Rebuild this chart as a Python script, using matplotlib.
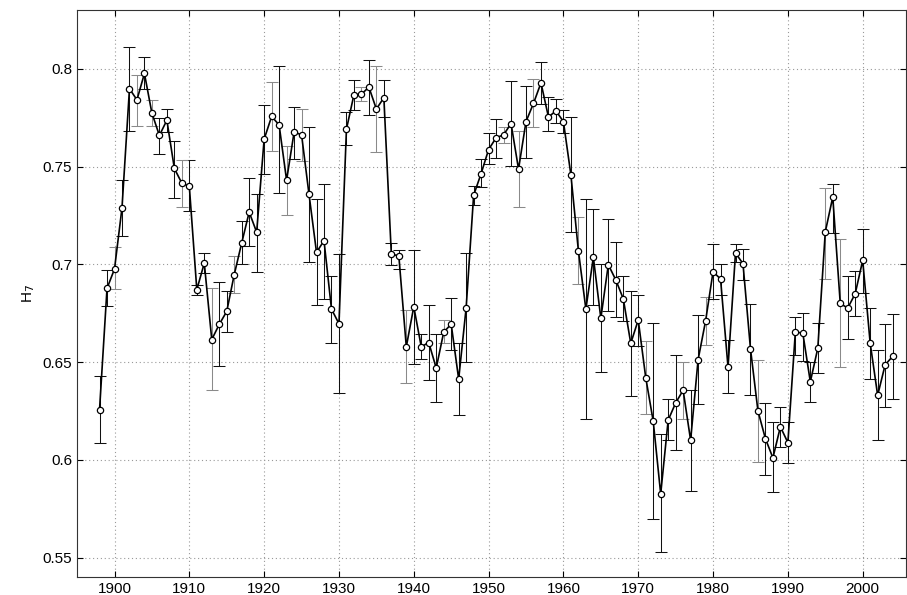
import numpy as np
import matplotlib
matplotlib.use('Agg')
import matplotlib.pyplot as plt
from matplotlib.ticker import FormatStrFormatter, MultipleLocator

plt.rcParams['font.family'] = ['Liberation Sans', 'DejaVu Sans']

years = np.arange(1898, 2005)

h7 = [0.6257, 0.6877, 0.6976, 0.7288, 0.7898, 0.7841, 0.7976, 0.7773, 0.7659, 0.7737,
      0.7490, 0.7415, 0.7399, 0.6870, 0.7006, 0.6615, 0.6693, 0.6759, 0.6947, 0.7109,
      0.7267, 0.7164, 0.7640, 0.7756, 0.7713, 0.7430, 0.7675, 0.7663, 0.7357, 0.7061,
      0.7121, 0.6771, 0.6696, 0.7691, 0.7867, 0.7870, 0.7906, 0.7794, 0.7852, 0.7051,
      0.7044, 0.6578, 0.6783, 0.6578, 0.6600, 0.6469, 0.6653, 0.6694, 0.6413, 0.6778,
      0.7353, 0.7464, 0.7587, 0.7647, 0.7662, 0.7720, 0.7487, 0.7730, 0.7823, 0.7928,
      0.7753, 0.7785, 0.7730, 0.7457, 0.7070, 0.6771, 0.7036, 0.6724, 0.6998, 0.6920,
      0.6824, 0.6596, 0.6715, 0.6421, 0.6198, 0.5826, 0.6203, 0.6291, 0.6356, 0.6100,
      0.6512, 0.6710, 0.6962, 0.6925, 0.6474, 0.7058, 0.7003, 0.6568, 0.6250, 0.6108,
      0.6010, 0.6169, 0.6088, 0.6655, 0.6647, 0.6399, 0.6571, 0.7166, 0.7344, 0.6800,
      0.6776, 0.6850, 0.7020, 0.6597, 0.6330, 0.6486, 0.6529]

upper = [0.6431, 0.6969, 0.7089, 0.7433, 0.8111, 0.7969, 0.8060, 0.7841, 0.7748, 0.7796,
         0.7633, 0.7532, 0.7531, 0.6895, 0.7060, 0.6877, 0.6909, 0.6865, 0.7043, 0.7224,
         0.7442, 0.7362, 0.7816, 0.7932, 0.8012, 0.7606, 0.7806, 0.7796, 0.7703, 0.7333,
         0.7413, 0.6938, 0.7055, 0.7778, 0.7942, 0.7906, 0.8046, 0.8014, 0.7945, 0.7107,
         0.7073, 0.6768, 0.7074, 0.6645, 0.6790, 0.6646, 0.6713, 0.6827, 0.6600, 0.7060,
         0.7399, 0.7538, 0.7672, 0.7741, 0.7700, 0.7940, 0.7683, 0.7913, 0.7950, 0.8036,
         0.7858, 0.7846, 0.7790, 0.7753, 0.7242, 0.7334, 0.7285, 0.7000, 0.7234, 0.7113,
         0.6939, 0.6862, 0.6843, 0.6609, 0.6701, 0.6130, 0.6310, 0.6534, 0.6498, 0.6357,
         0.6739, 0.6834, 0.7104, 0.7000, 0.6613, 0.7106, 0.7077, 0.6797, 0.6512, 0.6289,
         0.6191, 0.6268, 0.6193, 0.6728, 0.6752, 0.6502, 0.6698, 0.7390, 0.7411, 0.7128,
         0.6939, 0.6968, 0.7183, 0.6776, 0.6561, 0.6696, 0.6744]

lower = [0.6084, 0.6785, 0.6872, 0.7145, 0.7681, 0.7708, 0.7898, 0.7708, 0.7565, 0.7676,
         0.7341, 0.7295, 0.7273, 0.6843, 0.6954, 0.6355, 0.6479, 0.6652, 0.6855, 0.7000,
         0.7092, 0.6961, 0.7462, 0.7580, 0.7365, 0.7254, 0.7538, 0.7526, 0.7013, 0.6793,
         0.6824, 0.6597, 0.6340, 0.7608, 0.7790, 0.7833, 0.7766, 0.7572, 0.7751, 0.6997,
         0.6975, 0.6392, 0.6490, 0.6514, 0.6408, 0.6297, 0.6599, 0.6561, 0.6227, 0.6500,
         0.7305, 0.7393, 0.7512, 0.7546, 0.7619, 0.7503, 0.7292, 0.7546, 0.7700, 0.7818,
         0.7683, 0.7724, 0.7672, 0.7165, 0.6899, 0.6208, 0.6792, 0.6447, 0.6761, 0.6732,
         0.6712, 0.6328, 0.6584, 0.6234, 0.5696, 0.5527, 0.6100, 0.6048, 0.6208, 0.5841,
         0.6283, 0.6585, 0.6824, 0.6845, 0.6340, 0.7014, 0.6920, 0.6333, 0.5991, 0.5923,
         0.5834, 0.6068, 0.5985, 0.6536, 0.6508, 0.6297, 0.6444, 0.6923, 0.7160, 0.6474,
         0.6616, 0.6735, 0.6855, 0.6413, 0.6100, 0.6268, 0.6311]

# years whose error bars come out lighter in the original
gray_years = [1900, 1903, 1905, 1909, 1913, 1916, 1921, 1923, 1925, 1933, 1935, 1939,
              1944, 1952, 1954, 1956, 1962, 1971, 1976, 1979, 1986, 1995, 1997]

h7 = np.array(h7)
upper = np.array(upper)
lower = np.array(lower)
is_gray = np.isin(years, gray_years)

fig = plt.figure(figsize=(9.07, 5.95), dpi=100)
ax = fig.add_axes([0.085, 0.030, 0.914, 0.953])

for mask, col in [(~is_gray, '#111111'), (is_gray, '#8a8a8a')]:
    ax.errorbar(years[mask], h7[mask],
                yerr=[h7[mask] - lower[mask], upper[mask] - h7[mask]],
                fmt='none', ecolor=col, elinewidth=0.75, capsize=4, capthick=0.75, zorder=2)

ax.plot(years, h7, '-', color='black', lw=1.2, zorder=3)
ax.plot(years, h7, 'o', ms=4.5, mfc='white', mec='black', mew=0.9, zorder=4)

ax.set_xlim(1895, 2005.8)
ax.set_ylim(0.54, 0.83)
ax.xaxis.set_major_locator(MultipleLocator(10))
ax.yaxis.set_major_locator(MultipleLocator(0.05))
ax.yaxis.set_major_formatter(FormatStrFormatter('%g'))

ax.grid(True, linestyle=(0, (1, 2.5)), color='#999999', linewidth=0.8)
ax.tick_params(direction='in', top=True, right=True, labelsize=11, length=4)
for s in ax.spines.values():
    s.set_linewidth(0.8)
    s.set_color('#333333')

ax.set_ylabel('H$_7$', fontsize=11)

plt.savefig('out.png', dpi=100)
